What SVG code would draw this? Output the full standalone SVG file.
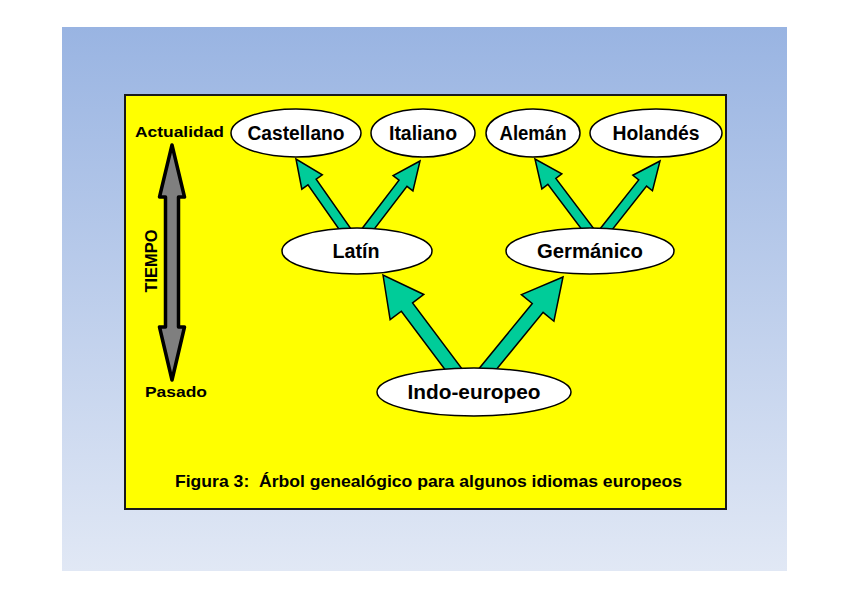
<svg xmlns="http://www.w3.org/2000/svg" xmlns:xlink="http://www.w3.org/1999/xlink" width="848" height="599" viewBox="0 0 848 599">
  <defs>
    <linearGradient id="bg" x1="0" y1="0" x2="0" y2="1">
      <stop offset="0" stop-color="#99b4e2"/>
      <stop offset="1" stop-color="#e1e8f5"/>
    </linearGradient>
    <path id="arrS" d="M0,0 L-28,-12.5 L-28,-5 L-95,-5 L-95,5 L-28,5 L-28,12.5 Z"/>
    <path id="arrL" d="M0,0 L-40,-21 L-40,-7 L-130,-7 L-130,7 L-40,7 L-40,21 Z"/>
  </defs>
  <style>
    .node ellipse { fill: #ffffff; stroke: #000000; stroke-width: 1.5; }
    .lbl { font-family: "Liberation Sans", Arial, sans-serif; font-weight: bold; fill: #000000; }
    .node text { font-size: 20px; text-anchor: middle; }
    .arrow { fill: #00cc99; stroke: #000000; stroke-width: 1.5; stroke-linejoin: miter; }
  </style>
  <rect x="62" y="27" width="725" height="544" fill="url(#bg)"/>
  <rect x="125" y="95" width="601" height="414" fill="#ffff00" stroke="#1a1a1a" stroke-width="2"/>

  <g id="time-axis">
    <path d="M172,145 L184.5,197 L178.5,197 L178.5,327 L184.5,327 L172,380 L159.5,327 L165.5,327 L165.5,197 L159.5,197 Z" fill="#7f7f7f" stroke="#000000" stroke-width="3.5" stroke-linejoin="round"/>
    <text class="lbl" x="135" y="137" font-size="15.5" textLength="89" lengthAdjust="spacingAndGlyphs">Actualidad</text>
    <text class="lbl" x="145" y="397" font-size="15.5" textLength="62" lengthAdjust="spacingAndGlyphs">Pasado</text>
    <text class="lbl" transform="translate(157,261) rotate(-90)" x="0" y="0" font-size="16" text-anchor="middle" textLength="63" lengthAdjust="spacingAndGlyphs">TIEMPO</text>
  </g>

  <g id="connectors">
    <use xlink:href="#arrS" href="#arrS" class="arrow" transform="translate(296,159) rotate(-125)"/>
    <use xlink:href="#arrS" href="#arrS" class="arrow" transform="translate(420,161) rotate(-52.6)"/>
    <use xlink:href="#arrS" href="#arrS" class="arrow" transform="translate(535,159) rotate(-127)"/>
    <use xlink:href="#arrS" href="#arrS" class="arrow" transform="translate(660,161) rotate(-51.7)"/>
    <use xlink:href="#arrL" href="#arrL" class="arrow" transform="translate(383,275) rotate(-126.8)"/>
    <use xlink:href="#arrL" href="#arrL" class="arrow" transform="translate(563,277) rotate(-50.7)"/>
  </g>

  <g id="castellano" class="node">
    <ellipse cx="296" cy="133" rx="65" ry="24"/>
    <text class="lbl" x="296" y="140" textLength="97" lengthAdjust="spacingAndGlyphs">Castellano</text>
  </g>
  <g id="italiano" class="node">
    <ellipse cx="423" cy="133" rx="52" ry="24"/>
    <text class="lbl" x="423" y="140" textLength="68" lengthAdjust="spacingAndGlyphs">Italiano</text>
  </g>
  <g id="aleman" class="node">
    <ellipse cx="533" cy="133" rx="47" ry="24"/>
    <text class="lbl" x="533" y="140" textLength="67" lengthAdjust="spacingAndGlyphs">Alemán</text>
  </g>
  <g id="holandes" class="node">
    <ellipse cx="656" cy="133" rx="66" ry="24"/>
    <text class="lbl" x="656" y="140" textLength="87" lengthAdjust="spacingAndGlyphs">Holandés</text>
  </g>
  <g id="latin" class="node">
    <ellipse cx="357" cy="251" rx="75" ry="23"/>
    <text class="lbl" x="356" y="258" textLength="47" lengthAdjust="spacingAndGlyphs">Latín</text>
  </g>
  <g id="germanico" class="node">
    <ellipse cx="590" cy="251" rx="84" ry="23"/>
    <text class="lbl" x="590" y="258" textLength="106" lengthAdjust="spacingAndGlyphs">Germánico</text>
  </g>
  <g id="indoeuropeo" class="node">
    <ellipse cx="474" cy="392" rx="97" ry="24"/>
    <text class="lbl" x="474" y="399" textLength="133" lengthAdjust="spacingAndGlyphs">Indo-europeo</text>
  </g>

  <text class="lbl" x="175" y="487" font-size="16.5" xml:space="preserve" style="white-space:pre" textLength="507" lengthAdjust="spacingAndGlyphs">Figura 3:  Árbol genealógico para algunos idiomas europeos</text>
</svg>
